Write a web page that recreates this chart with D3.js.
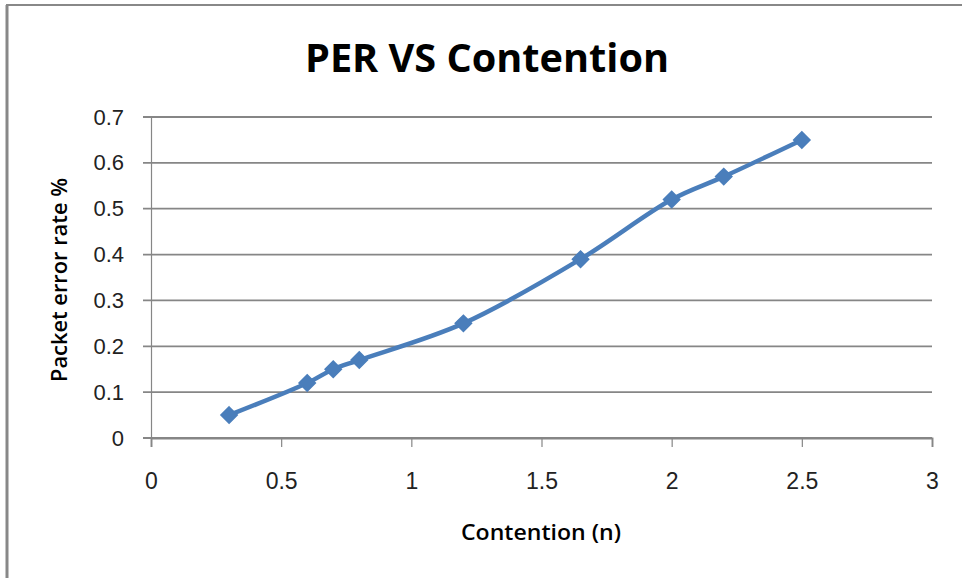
<!DOCTYPE html>
<html>
<head>
<meta charset="utf-8">
<script src="https://cdn.jsdelivr.net/npm/d3@7"></script>
<style>
  body { margin: 0; background: #fff; }
  svg { display: block; font-family: "Open Sans", "DejaVu Sans", sans-serif; }
</style>
</head>
<body>
<div id="chart-area"></div>
<script>
const contention = [0.3, 0.6, 0.7, 0.8, 1.2, 1.65, 2.0, 2.2, 2.5];
const per = [0.05, 0.12, 0.15, 0.17, 0.25, 0.39, 0.52, 0.57, 0.65];
const xTicks = [0, 0.5, 1, 1.5, 2, 2.5, 3];
const yTicks = [0, 0.1, 0.2, 0.3, 0.4, 0.5, 0.6, 0.7];

const canvas_dims = { width: 962, height: 578 };
const margins = { top: 117, right: 30, bottom: 140, left: 151 };
const content_dims = {
  width: canvas_dims.width - margins.left - margins.right,
  height: canvas_dims.height - margins.top - margins.bottom
};

const svg = d3
  .select("#chart-area")
  .append("svg")
  .attr("width", canvas_dims.width)
  .attr("height", canvas_dims.height);

// outer frame (left + top edges only, as in the source)
svg.append("line")
  .attr("x1", 7).attr("x2", 7).attr("y1", 5).attr("y2", canvas_dims.height)
  .attr("stroke", "#888").attr("stroke-width", 3);
svg.append("line")
  .attr("x1", 6).attr("x2", canvas_dims.width).attr("y1", 5).attr("y2", 5)
  .attr("stroke", "#888").attr("stroke-width", 2);

const group = svg.append("g")
  .attr("transform", `translate(${margins.left},${margins.top})`);

const x = d3.scaleLinear().domain([0, 3]).range([0, content_dims.width]);
const y = d3.scaleLinear().domain([0, 0.7]).range([content_dims.height, 0]);

// gridlines
group.append("g")
  .selectAll("line")
  .data(yTicks)
  .enter()
  .append("line")
  .attr("x1", -8)
  .attr("x2", content_dims.width)
  .attr("y1", d => y(d))
  .attr("y2", d => y(d))
  .attr("stroke", "#868686")
  .attr("stroke-width", 1.8);

// y axis
const yAxis = d3.axisLeft(y).tickValues(yTicks).tickSize(0).tickPadding(27)
  .tickFormat(d => d === 0 ? "0" : d3.format(".1f")(d));
group.append("g")
  .attr("class", "left axis")
  .call(yAxis)
  .call(g => g.select(".domain").attr("stroke", "#868686").attr("stroke-width", 1.2))
  .call(g => g.selectAll("text").attr("font-size", "22px").attr("fill", "#222")
    .attr("font-family", "'Liberation Sans', Arial, sans-serif"));

// x axis
const xAxis = d3.axisBottom(x).tickValues(xTicks).tickSizeOuter(0).tickSize(9).tickPadding(26)
  .tickFormat(d => String(d));
group.append("g")
  .attr("class", "bottom axis")
  .attr("transform", `translate(0,${content_dims.height})`)
  .call(xAxis)
  .call(g => g.select(".domain").attr("stroke", "#868686").attr("stroke-width", 1.8))
  .call(g => g.selectAll(".tick line").attr("stroke", "#868686").attr("stroke-width", 1.2))
  .call(g => g.selectAll("text").attr("font-size", "23px").attr("fill", "#222")
    .attr("font-family", "'Liberation Sans', Arial, sans-serif"));

// title
svg.append("text")
  .attr("x", 487)
  .attr("y", 72)
  .attr("text-anchor", "middle")
  .attr("font-size", "40px")
  .attr("font-weight", "bold")
  .attr("textLength", 364)
  .attr("lengthAdjust", "spacingAndGlyphs")
  .attr("fill", "#000")
  .text("PER VS Contention");

// x axis-label
svg.append("text")
  .attr("x", 541)
  .attr("y", 540)
  .attr("text-anchor", "middle")
  .attr("font-size", "21px")
  .attr("font-weight", "600")
  .attr("textLength", 160)
  .attr("lengthAdjust", "spacingAndGlyphs")
  .attr("fill", "#000")
  .text("Contention (n)");

// y axis-label
svg.append("text")
  .attr("transform", "translate(67,280) rotate(-90)")
  .attr("text-anchor", "middle")
  .attr("font-size", "21px")
  .attr("font-weight", "600")
  .attr("textLength", 204)
  .attr("lengthAdjust", "spacingAndGlyphs")
  .attr("fill", "#000")
  .text("Packet error rate %");

// series
const points = contention.map((c, i) => ({ c, p: per[i] }));
const line = d3.line()
  .x(d => x(d.c))
  .y(d => y(d.p))
  .curve(d3.curveCatmullRom.alpha(0.5));

group.append("path")
  .datum(points)
  .attr("d", line)
  .attr("fill", "none")
  .attr("stroke", "#4a7ebb")
  .attr("stroke-width", 4.5)
  .attr("stroke-linejoin", "round");

group.selectAll(".marker")
  .data(points)
  .enter()
  .append("path")
  .attr("class", "marker")
  .attr("transform", d => `translate(${x(d.c)},${y(d.p)})`)
  .attr("d", d3.symbol().type(d3.symbolDiamond2).size(170))
  .attr("fill", "#4a7ebb")
  .attr("stroke", "#4a7ebb")
  .attr("stroke-width", 1.5);
</script>
</body>
</html>
